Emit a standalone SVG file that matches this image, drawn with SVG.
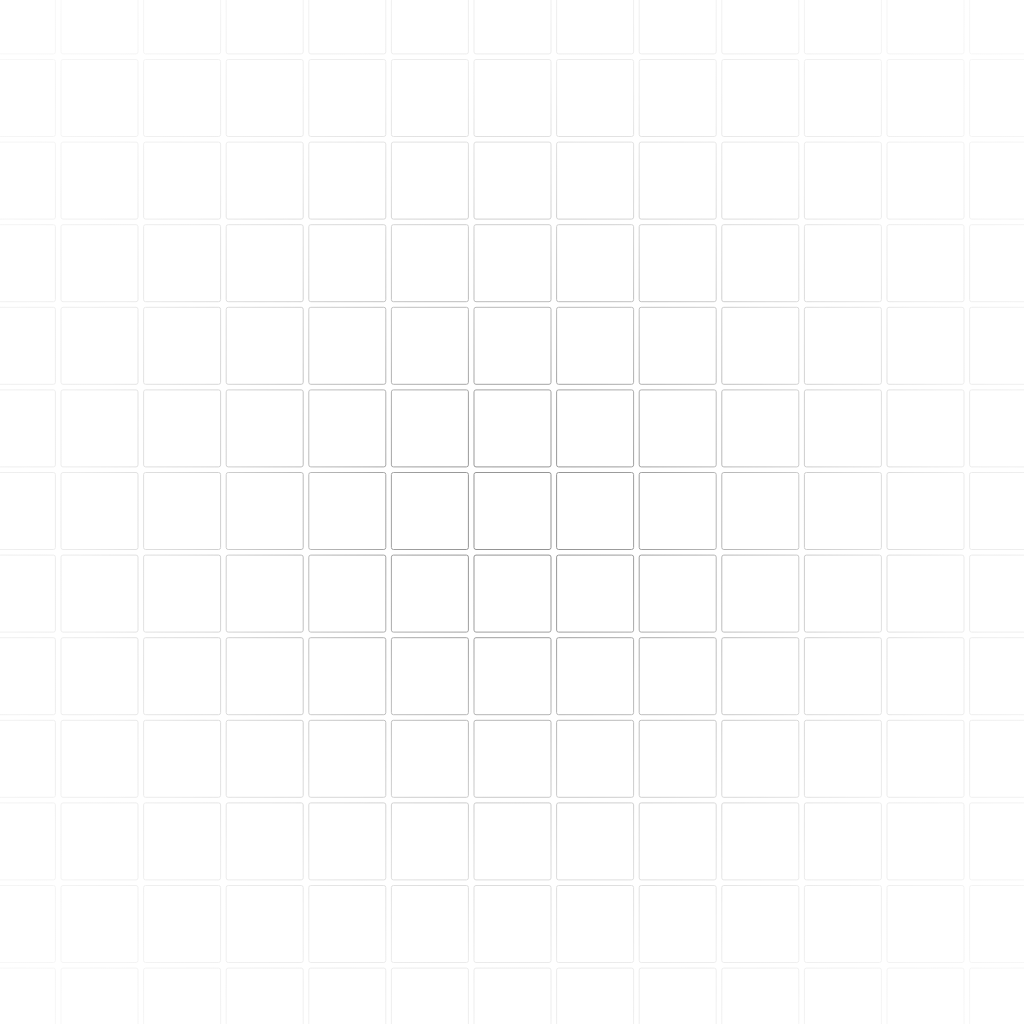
<svg xmlns="http://www.w3.org/2000/svg" xmlns:xlink="http://www.w3.org/1999/xlink" width="1024" height="1024" viewBox="0 0 1024 1024">
  <style>
    .tile { fill: #ffffff; stroke: #8f8f8f; stroke-width: 1; }
  </style>
  <defs>
    <radialGradient id="fade" gradientUnits="userSpaceOnUse" cx="520" cy="520" r="740">
      <stop offset="0" stop-color="#ffffff"/>
      <stop offset="0.15" stop-color="#e0e0e0"/>
      <stop offset="0.3" stop-color="#9a9a9a"/>
      <stop offset="0.45" stop-color="#5a5a5a"/>
      <stop offset="0.6" stop-color="#2e2e2e"/>
      <stop offset="0.8" stop-color="#1a1a1a"/>
      <stop offset="1" stop-color="#0d0d0d"/>
    </radialGradient>
    <mask id="vignette" maskUnits="userSpaceOnUse" x="0" y="0" width="1024" height="1024">
      <rect x="0" y="0" width="1024" height="1024" fill="url(#fade)"/>
    </mask>
    <g id="row">
      <rect class="tile" x="-21.6" y="0" width="77" height="77" rx="2"/>
      <rect class="tile" x="61" y="0" width="77" height="77" rx="2"/>
      <rect class="tile" x="143.6" y="0" width="77" height="77" rx="2"/>
      <rect class="tile" x="226.2" y="0" width="77" height="77" rx="2"/>
      <rect class="tile" x="308.8" y="0" width="77" height="77" rx="2"/>
      <rect class="tile" x="391.4" y="0" width="77" height="77" rx="2"/>
      <rect class="tile" x="474" y="0" width="77" height="77" rx="2"/>
      <rect class="tile" x="556.6" y="0" width="77" height="77" rx="2"/>
      <rect class="tile" x="639.2" y="0" width="77" height="77" rx="2"/>
      <rect class="tile" x="721.8" y="0" width="77" height="77" rx="2"/>
      <rect class="tile" x="804.4" y="0" width="77" height="77" rx="2"/>
      <rect class="tile" x="887" y="0" width="77" height="77" rx="2"/>
      <rect class="tile" x="969.6" y="0" width="77" height="77" rx="2"/>
    </g>
  </defs>
  <rect x="0" y="0" width="1024" height="1024" fill="#ffffff"/>
  <g id="tiles" mask="url(#vignette)">
    <use xlink:href="#row" href="#row" y="-23.1"/>
    <use xlink:href="#row" href="#row" y="59.5"/>
    <use xlink:href="#row" href="#row" y="142.1"/>
    <use xlink:href="#row" href="#row" y="224.7"/>
    <use xlink:href="#row" href="#row" y="307.3"/>
    <use xlink:href="#row" href="#row" y="389.9"/>
    <use xlink:href="#row" href="#row" y="472.5"/>
    <use xlink:href="#row" href="#row" y="555.1"/>
    <use xlink:href="#row" href="#row" y="637.7"/>
    <use xlink:href="#row" href="#row" y="720.3"/>
    <use xlink:href="#row" href="#row" y="802.9"/>
    <use xlink:href="#row" href="#row" y="885.5"/>
    <use xlink:href="#row" href="#row" y="968.1"/>
  </g>
</svg>
